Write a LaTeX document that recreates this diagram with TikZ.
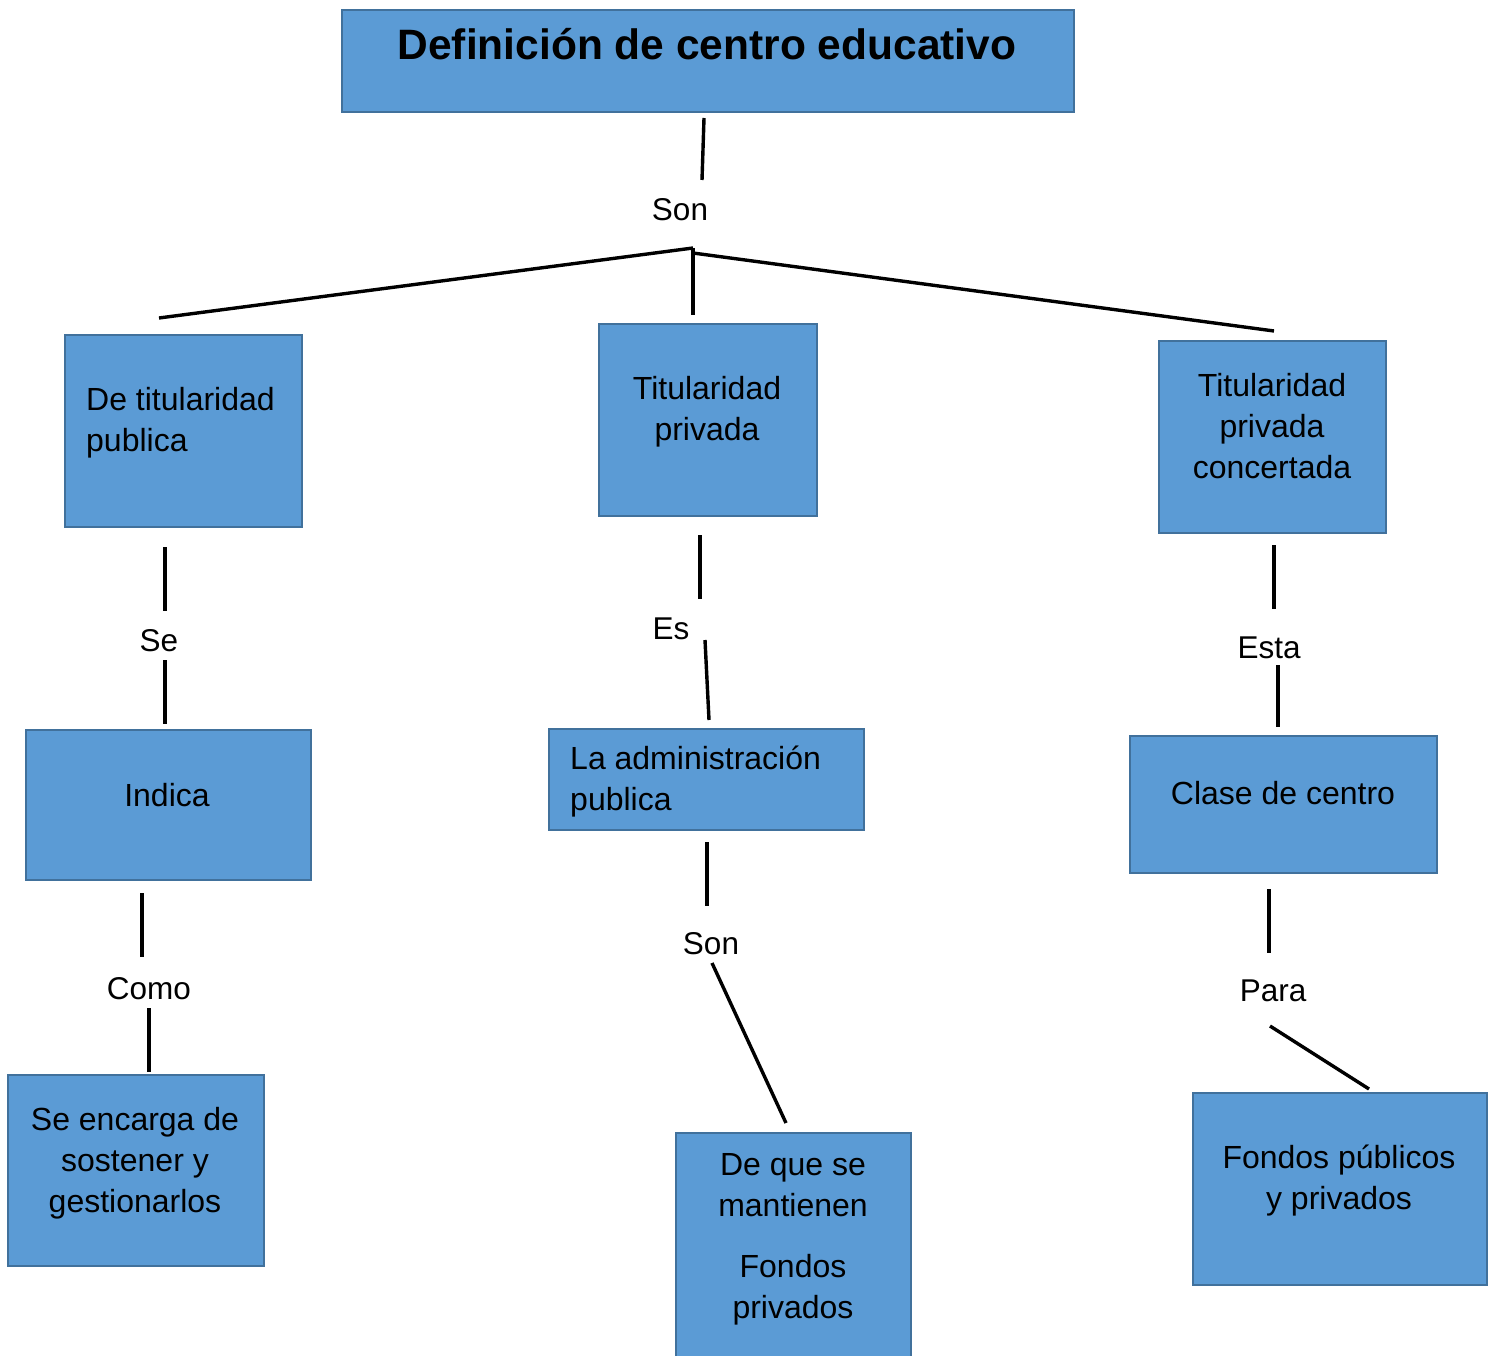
\documentclass[tikz,border=0pt]{standalone}
\usepackage{fontspec}
\setmainfont{Liberation Sans}
\definecolor{boxfill}{HTML}{5B9BD5}
\definecolor{boxedge}{HTML}{41719C}
\begin{document}
\begin{tikzpicture}[x=1pt,y=-1pt,
  box/.style={draw=boxedge, fill=boxfill, line width=2pt, inner sep=0pt, anchor=north west},
  txt/.style={font=\fontsize{32}{41}\selectfont, inner sep=0pt},
  lbl/.style={font=\fontsize{31.5}{41}\selectfont, inner sep=0pt},
  conn/.style={line width=3.4pt, black}]
\useasboundingbox (0,0) rectangle (1490,1356);
% boxes
\node[box, minimum width=732, minimum height=102] (title) at (341,9) {};
\node[box, minimum width=237, minimum height=192] (b1) at (64,334) {};
\node[box, minimum width=218, minimum height=192] (b2) at (598,323) {};
\node[box, minimum width=227, minimum height=192] (b3) at (1158,340) {};
\node[box, minimum width=285, minimum height=150] (c1) at (25,729) {};
\node[box, minimum width=315, minimum height=101] (c2) at (548,728) {};
\node[box, minimum width=307, minimum height=137] (c3) at (1129,735) {};
\node[box, minimum width=256, minimum height=191] (d1) at (7,1074) {};
\node[box, minimum width=235, minimum height=260] (d2) at (675,1132) {};
\node[box, minimum width=294, minimum height=192] (d3) at (1192,1092) {};
% texts
\node[inner sep=0pt, font=\fontsize{42.5}{50}\selectfont\bfseries] (titletxt) at (707,44) {Definición de centro educativo};
\node[txt, anchor=west, align=left] (t1) at (86,423) {De titularidad\\publica};
\node[txt, align=center] (t2) at (707,412) {Titularidad\\privada};
\node[txt, align=center] (t3) at (1272,426) {Titularidad\\privada\\concertada};
\node[txt] (t4) at (167,795) {Indica};
\node[txt, anchor=west, align=left] (t5) at (570,782) {La administración\\publica};
\node[txt] (t6) at (1283,793) {Clase de centro};
\node[txt, align=center] (t7) at (135,1163) {Se encarga de\\sostener y\\gestionarlos};
\node[txt, align=center] (t8) at (793,1239) {De que se\\mantienen\\[20pt]Fondos\\privados};
\node[txt, align=center] (t9) at (1339,1181) {Fondos públicos\\y privados};
% labels
\node[lbl] (l0) at (680,210) {Son};
\node[lbl] (l1) at (159,641) {Se};
\node[lbl] (l2) at (671,629) {Es};
\node[lbl] (l3) at (1269,648) {Esta};
\node[lbl] (l4) at (711,944) {Son};
\node[lbl] (l5) at (149,989) {Como};
\node[lbl] (l6) at (1273,991) {Para};
% connector end points
\coordinate (a0) at (704,118); \coordinate (a1) at (702,180);
\coordinate (hub) at (693,248); \coordinate (hub2) at (693,253);
\coordinate (ll) at (159,318); \coordinate (mm) at (693,315); \coordinate (rr) at (1274,331);
\coordinate (p1) at (165,547); \coordinate (p2) at (165,611);
\coordinate (p3) at (165,660); \coordinate (p4) at (165,724);
\coordinate (q1) at (700,535); \coordinate (q2) at (700,599);
\coordinate (q3) at (705,640); \coordinate (q4) at (709,720);
\coordinate (r1) at (1274,545); \coordinate (r2) at (1274,609);
\coordinate (r3) at (1278,665); \coordinate (r4) at (1278,727);
\coordinate (s1) at (142,893); \coordinate (s2) at (142,957);
\coordinate (s3) at (149,1008); \coordinate (s4) at (149,1072);
\coordinate (u1) at (707,842); \coordinate (u2) at (707,906);
\coordinate (u3) at (712,963); \coordinate (u4) at (786,1123);
\coordinate (v1) at (1269,889); \coordinate (v2) at (1269,953);
\coordinate (v3) at (1270,1026); \coordinate (v4) at (1369,1089);
% connectors
\draw[conn] (a0) -- (a1);
\draw[conn] (ll) -- (hub);
\draw[conn] (hub) -- (mm);
\draw[conn] (hub2) -- (rr);
\draw[conn] (p1) -- (p2); \draw[conn] (p3) -- (p4);
\draw[conn] (q1) -- (q2); \draw[conn] (q3) -- (q4);
\draw[conn] (r1) -- (r2); \draw[conn] (r3) -- (r4);
\draw[conn] (s1) -- (s2); \draw[conn] (s3) -- (s4);
\draw[conn] (u1) -- (u2); \draw[conn] (u3) -- (u4);
\draw[conn] (v1) -- (v2); \draw[conn] (v3) -- (v4);
\end{tikzpicture}
\end{document}
